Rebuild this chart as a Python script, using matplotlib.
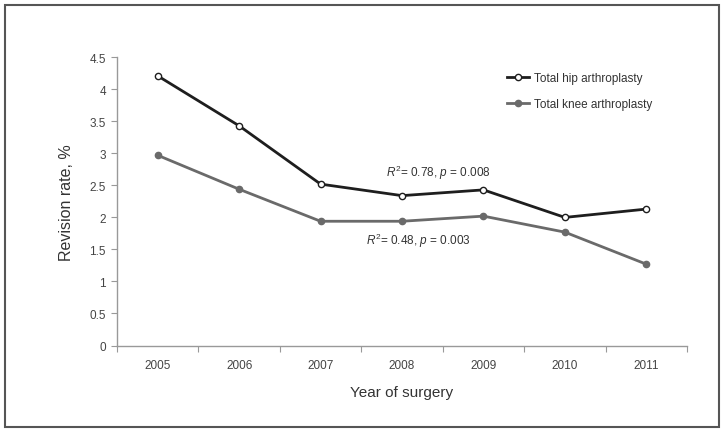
import matplotlib
matplotlib.use("Agg")
import matplotlib.pyplot as plt
from matplotlib.patches import Rectangle

plt.rcParams.update({
    "font.family": ["Liberation Sans", "DejaVu Sans"],
    "mathtext.fontset": "custom",
    "mathtext.rm": "Liberation Sans",
    "mathtext.it": "Liberation Sans:italic",
})

years = ["2005", "2006", "2007", "2008", "2009", "2010", "2011"]
hip = [4.21, 3.43, 2.52, 2.34, 2.43, 2.00, 2.13]
knee = [2.97, 2.44, 1.94, 1.94, 2.02, 1.77, 1.27]
y_ticks = [0, 0.5, 1, 1.5, 2, 2.5, 3, 3.5, 4, 4.5]

fig = plt.figure(figsize=(7.25, 4.35), dpi=100)
ax = fig.add_axes([117 / 725, 1 - 346.5 / 435, 570 / 725, 288.2 / 435])

x = list(range(len(years)))
ax.plot(x, hip, color="#1e1e1e", linewidth=2.0, marker="o", markersize=4.5,
        markerfacecolor="white", markeredgecolor="#1e1e1e", markeredgewidth=1.0,
        label="Total hip arthroplasty", zorder=3)
ax.plot(x, knee, color="#6a6a6a", linewidth=2.0, marker="o", markersize=4.5,
        markerfacecolor="#6a6a6a", markeredgecolor="#6a6a6a",
        label="Total knee arthroplasty", zorder=3)

ax.set_xlim(-0.5, len(years) - 0.5)
ax.set_ylim(0, 4.5)
ax.set_yticks(y_ticks)
ax.set_yticklabels([f"{t:g}" for t in y_ticks])
ax.set_xticks([i - 0.5 for i in range(len(years) + 1)])
ax.set_xticklabels([])
ax.set_xticks(x, minor=True)
ax.set_xticklabels(years, minor=True)
ax.tick_params(axis="x", which="minor", length=0, pad=10, labelsize=8.5, labelcolor="#444")
ax.tick_params(axis="x", which="major", length=4, color="#999")
ax.tick_params(axis="y", length=4, color="#999", labelsize=8.5, labelcolor="#444", pad=4)

for side in ("top", "right"):
    ax.spines[side].set_visible(False)
for side in ("left", "bottom"):
    ax.spines[side].set_color("#999")
    ax.spines[side].set_linewidth(1.0)

ax.set_xlabel("Year of surgery", fontsize=11, color="#333", labelpad=10)
ax.set_ylabel("Revision rate, %", fontsize=11.5, color="#333", labelpad=11)

ax.text(2.8, 2.64, r"$R^2$= 0.78, $p$ = 0.008", fontsize=8.5, color="#333")
ax.text(2.56, 1.58, r"$R^2$= 0.48, $p$ = 0.003", fontsize=8.5, color="#333")

ax.legend(loc="upper left", bbox_to_anchor=(0.665, 0.985), frameon=False,
          fontsize=8.5, handlelength=1.9, handletextpad=0.4, labelspacing=1.2,
          labelcolor="#333")

fig.patches.append(Rectangle((5 / 725, 1 - 428 / 435), 714 / 725, 422 / 435,
                             transform=fig.transFigure, fill=False,
                             edgecolor="#555", linewidth=1.5))

fig.savefig("out.png", dpi=100)
